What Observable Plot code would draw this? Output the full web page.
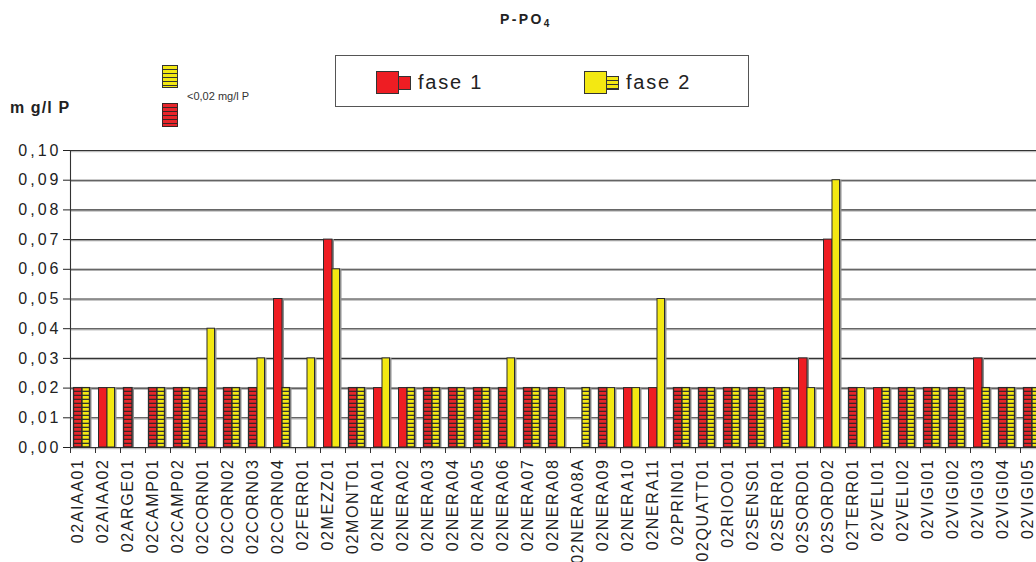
<!DOCTYPE html>
<html><head><meta charset="utf-8">
<script src="https://cdn.jsdelivr.net/npm/d3@7"></script>
<script src="https://cdn.jsdelivr.net/npm/@observablehq/plot@0.6"></script>
<style>
html,body{margin:0;padding:0;background:#fff;overflow:hidden;}
#wrap{position:relative;width:1036px;height:562px;overflow:hidden;font-family:"Liberation Sans",Arial,sans-serif;color:#222;}
#chart{position:absolute;left:0;top:0;width:1060px;}
#chart svg{max-width:none !important;}
#chart svg text{letter-spacing:1.6px;}
#chart svg g[aria-label="y-axis tick label"] text{letter-spacing:3px;}
.abs{position:absolute;white-space:nowrap;box-sizing:border-box;}
.title{left:500px;top:11px;font-size:14px;font-weight:bold;letter-spacing:2.4px;color:#222;}
.title sub{font-size:10px;letter-spacing:0;vertical-align:-3px;line-height:0;}
.unit{left:10px;top:99px;font-size:16px;font-weight:bold;letter-spacing:1.1px;color:#222;}
.note{left:187px;top:90px;font-size:11px;color:#333;}
.hy{background:repeating-linear-gradient(to bottom,#f3e812 0 2.6px,#333 2.6px 4px);border:1.5px solid #333;}
.hr{background:repeating-linear-gradient(to bottom,#e8252a 0 2.6px,#3a2626 2.6px 4px);border:1.5px solid #3a2626;}
.box{left:335px;top:55px;width:414px;height:52px;border:1px solid #555;background:#fff;}
.red{background:#ee1d23;border:1px solid #333;}
.yel{background:#f3e812;border:1px solid #333;}
.lt{font-size:20px;letter-spacing:1.8px;color:#222;}
</style>
</head><body>
<div id="wrap">
  <div id="chart"></div>
  <div class="abs title">P-PO<sub>4</sub></div>
  <div class="abs unit">m g/l P</div>
  <div class="abs hy" style="left:162px;top:65px;width:16px;height:23px;"></div>
  <div class="abs hr" style="left:162px;top:103px;width:16px;height:24px;"></div>
  <div class="abs note">&lt;0,02 mg/l P</div>
  <div class="abs box"></div>
  <div class="abs red" style="left:376px;top:71px;width:23px;height:23px;"></div>
  <div class="abs red" style="left:398px;top:76px;width:13px;height:14px;"></div>
  <div class="abs lt" style="left:418px;top:71px;">fase 1</div>
  <div class="abs yel" style="left:584px;top:71px;width:23px;height:23px;"></div>
  <div class="abs hy" style="left:606px;top:76px;width:13px;height:14px;border-width:1px;"></div>
  <div class="abs lt" style="left:626px;top:71px;">fase 2</div>
</div>
<script>
const cats = ["02AIAA01","02AIAA02","02ARGE01","02CAMP01","02CAMP02","02CORN01","02CORN02","02CORN03","02CORN04","02FERR01","02MEZZ01","02MONT01","02NERA01","02NERA02","02NERA03","02NERA04","02NERA05","02NERA06","02NERA07","02NERA08","02NERA08A","02NERA09","02NERA10","02NERA11","02PRIN01","02QUATT01","02RIOO01","02SENS01","02SERR01","02SORD01","02SORD02","02TERR01","02VELI01","02VELI02","02VIGI01","02VIGI02","02VIGI03","02VIGI04","02VIGI05"];
// values in mg/l P (null = no sample)
const fase1 = [0.02,0.02,0.02,0.02,0.02,0.02,0.02,0.02,0.05,null,0.07,0.02,0.02,0.02,0.02,0.02,0.02,0.02,0.02,0.02,null,0.02,0.02,0.02,0.02,0.02,0.02,0.02,0.02,0.03,0.07,0.02,0.02,0.02,0.02,0.02,0.03,0.02,0.02];
const fase2 = [0.02,0.02,null,0.02,0.02,0.04,0.02,0.03,0.02,0.03,0.06,0.02,0.03,0.02,0.02,0.02,0.02,0.03,0.02,0.02,0.02,0.02,0.02,0.05,0.02,0.02,0.02,0.02,0.02,0.02,0.09,0.02,0.02,0.02,0.02,0.02,0.02,0.02,0.02];
// 1 = below detection limit (<0,02 mg/l P), drawn hatched
const fase1Below = [1,0,1,1,1,1,1,1,0,0,0,1,0,0,1,1,1,1,1,1,0,1,0,0,1,1,1,1,0,0,0,1,0,1,1,1,0,1,1];
const fase2Below = [1,0,0,1,1,0,1,0,1,0,0,1,0,1,1,1,1,0,1,0,1,0,0,0,1,1,1,1,1,0,0,0,1,1,1,1,1,1,1];
const yTicks = [0,0.01,0.02,0.03,0.04,0.05,0.06,0.07,0.08,0.09,0.10];

const rows = cats.map((c,i)=>({cat:c, f1:fase1[i], f2:fase2[i], b1:fase1Below[i]===1, b2:fase2Below[i]===1}));
const RED="#ee1d23", YEL="#f3e812", EDGE="#2b2b2b", SHADOW="#8f8f8f";
const redBar = {x:"cat", insetLeft:3.5, insetRight:13};
const yelBar = {x:"cat", insetLeft:12, insetRight:5.5};
const fmt = d => d.toFixed(2).replace(".", ",");

const svg = Plot.plot({
  width:1060, height:562,
  marginLeft:70, marginRight:15, marginTop:150, marginBottom:115,
  x:{domain:cats, padding:0, axis:null},
  y:{domain:[0,0.1], axis:null},
  style:{fontFamily:'"Liberation Sans", Arial, sans-serif', fontSize:"16px", color:"#333", background:"transparent", overflow:"visible", maxWidth:"none"},
  marks:[
    Plot.ruleY(yTicks,{stroke:"#b0b0b0", dy:1.2}),
    Plot.ruleY(yTicks,{stroke:"#333", strokeWidth:1.1}),
    Plot.ruleX([cats[0]],{dx:-12.5, stroke:"#333", strokeWidth:1.1}),
    Plot.axisY({ticks:10, tickFormat:fmt, tickSize:7, tickPadding:2, fontSize:16, label:null, color:"#222"}),
    Plot.axisX({tickSize:6, dx:-12.5, tickFormat:()=>"", label:null}),
    Plot.barY(rows.filter(d=>d.f1!=null), {...redBar, y:"f1", fill:SHADOW, dx:2}),
    Plot.barY(rows.filter(d=>d.f1!=null && !d.b1), {...redBar, y:"f1", fill:RED, stroke:EDGE}),
    Plot.barY(rows.filter(d=>d.f1!=null && d.b1), {...redBar, y:"f1", fill:"url(#hatchRed)", stroke:EDGE, strokeWidth:1.3}),
    Plot.barY(rows.filter(d=>d.f2!=null), {...yelBar, y:"f2", fill:SHADOW, dx:2}),
    Plot.barY(rows.filter(d=>d.f2!=null && !d.b2), {...yelBar, y:"f2", fill:YEL, stroke:EDGE}),
    Plot.barY(rows.filter(d=>d.f2!=null && d.b2), {...yelBar, y:"f2", fill:"url(#hatchYel)", stroke:EDGE, strokeWidth:1.3}),
    Plot.text(cats, {x:d=>d, frameAnchor:"bottom", dy:11, rotate:-90, textAnchor:"end", fontSize:16, fill:"#222"})
  ]
});
svg.style.maxWidth = "none";
const ns = "http://www.w3.org/2000/svg";
const defs = document.createElementNS(ns, "defs");
defs.innerHTML =
  `<pattern id="hatchRed" patternUnits="userSpaceOnUse" width="10" height="4">
     <rect width="10" height="4" fill="#e8252a"/><rect y="2.7" width="10" height="1.3" fill="#3a2626"/></pattern>
   <pattern id="hatchYel" patternUnits="userSpaceOnUse" width="10" height="4">
     <rect width="10" height="4" fill="${YEL}"/><rect y="2.7" width="10" height="1.3" fill="#333"/></pattern>`;
svg.insertBefore(defs, svg.firstChild);
document.getElementById("chart").appendChild(svg);
</script>
</body></html>
